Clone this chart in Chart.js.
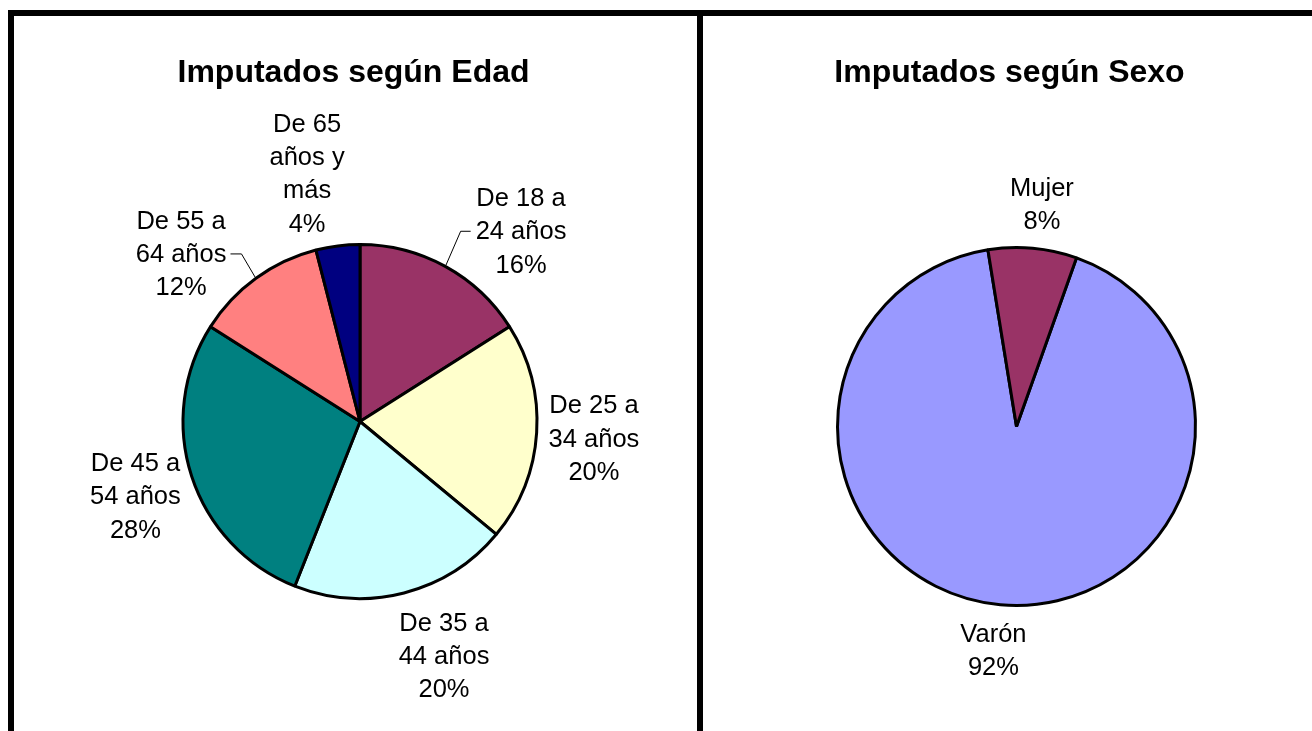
<!DOCTYPE html>
<html lang="es">
<head>
<meta charset="utf-8">
<title>Imputados según Edad y Sexo</title>
<script src="https://cdn.jsdelivr.net/npm/chart.js@4.4.1/dist/chart.umd.min.js"></script>
<style>
  html, body { margin: 0; padding: 0; background: #fff; width: 1312px; height: 731px; overflow: hidden; }
  .barra { position: absolute; background: #000; }
  .panel { position: absolute; }
</style>
</head>
<body>
<div class="barra" style="left:8px;top:10px;width:1304px;height:6px"></div>
<div class="barra" style="left:8px;top:10px;width:6px;height:721px"></div>
<div class="barra" style="left:697px;top:10px;width:6px;height:721px"></div>
<div class="panel" style="left:14px;top:16px;width:683px;height:715px"><canvas id="edadChart"></canvas></div>
<div class="panel" style="left:703px;top:16px;width:609px;height:715px"><canvas id="sexoChart"></canvas></div>

<script>
// Datos: imputados por tramo de edad (%)
const edadCategorias = [
    ['De 18 a', '24 años'],
    ['De 25 a', '34 años'],
    ['De 35 a', '44 años'],
    ['De 45 a', '54 años'],
    ['De 55 a', '64 años'],
    ['De 65', 'años y', 'más']
];
const edadValores = [16, 20, 20, 28, 12, 4];
const edadColores = ['#993366', '#FFFFCC', '#CCFFFF', '#008080', '#FF8080', '#000080'];

// Datos: imputados por sexo (%)
const sexoCategorias = ['Varón', 'Mujer'];
const sexoValores = [92, 8];
const sexoColores = ['#9999FF', '#993366'];

const FUENTE = '"Liberation Sans", Arial, Helvetica, sans-serif';

// Padding para ubicar el centro de la torta dentro del canvas
function rellenoPara(ancho, alto, cx, cy, medio) {
    return { left: cx - medio, right: ancho - cx - medio, top: cy - medio, bottom: alto - cy - medio };
}

// Etiquetas fuera de cada porción (categoría + porcentaje), con línea guía opcional
const etiquetasPlugin = {
    id: 'etiquetasTorta',
    afterDatasetsDraw(chart, args, opts) {
        const ctx = chart.ctx;
        const meta = chart.getDatasetMeta(0);
        const valores = chart.data.datasets[0].data;
        ctx.save();
        ctx.fillStyle = '#000';
        ctx.strokeStyle = '#000';
        ctx.lineWidth = 1;
        ctx.font = `${opts.tamano}px ${FUENTE}`;
        ctx.textAlign = 'center';
        ctx.textBaseline = 'alphabetic';
        meta.data.forEach((arco, i) => {
            const { x, y, startAngle, endAngle, outerRadius } =
                arco.getProps(['x', 'y', 'startAngle', 'endAngle', 'outerRadius'], true);
            const medio = (startAngle + endAngle) / 2;
            const pos = opts.posiciones[i];
            const ang = medio + pos.giro * Math.PI / 180;
            const lx = x + pos.dist * Math.cos(ang);
            const ly = y + pos.dist * Math.sin(ang);
            const cat = chart.data.labels[i];
            const lineas = (Array.isArray(cat) ? cat : [cat]).concat(valores[i] + '%');
            const y0 = ly - (lineas.length - 1) * opts.interlinea / 2;
            lineas.forEach((t, k) => {
                ctx.fillText(t, lx, y0 + k * opts.interlinea + opts.tamano * 0.358);
            });
            if (pos.guia) {
                const k = Math.floor(lineas.length / 2);
                const yl = y0 + k * opts.interlinea + 1;
                const w = ctx.measureText(lineas[k]).width;
                const derecha = lx > x;
                const xFin = derecha ? lx - w / 2 - 5 : lx + w / 2 + 4;
                const xCodo = derecha ? xFin - 10 : xFin + 11;
                const r = outerRadius + 1.5;
                ctx.beginPath();
                ctx.moveTo(x + r * Math.cos(medio), y + r * Math.sin(medio));
                ctx.lineTo(xCodo, yl);
                ctx.lineTo(xFin, yl);
                ctx.stroke();
            }
        });
        ctx.restore();
    }
};

// Título de cada panel
const tituloPlugin = {
    id: 'tituloPanel',
    afterDraw(chart, args, opts) {
        const ctx = chart.ctx;
        ctx.save();
        ctx.fillStyle = '#000';
        ctx.font = `bold 32px ${FUENTE}`;
        ctx.textAlign = 'center';
        ctx.textBaseline = 'alphabetic';
        ctx.fillText(opts.texto, opts.x, opts.y);
        ctx.restore();
    }
};

document.addEventListener('DOMContentLoaded', function() {
    const comunes = {
        responsive: true,
        maintainAspectRatio: false,
        animation: false,
        events: []
    };

    new Chart(document.getElementById('edadChart'), {
        type: 'pie',
        data: {
            labels: edadCategorias,
            datasets: [{
                data: edadValores,
                backgroundColor: edadColores,
                borderColor: '#000',
                borderWidth: 3
            }]
        },
        options: {
            ...comunes,
            radius: 177,
            rotation: 0,
            layout: { padding: rellenoPara(683, 715, 346, 405.5, 180) },
            plugins: {
                legend: { display: false },
                tooltip: { enabled: false },
                tituloPanel: { texto: 'Imputados según Edad', x: 339.5, y: 66 },
                etiquetasTorta: {
                    tamano: 25.5,
                    interlinea: 33.3,
                    posiciones: [
                        { dist: 250, giro: 11.3, guia: true },
                        { dist: 234.5, giro: 0.3 },
                        { dist: 248, giro: -5.4 },
                        { dist: 236.4, giro: -0.2 },
                        { dist: 245.8, giro: -10.7, guia: true },
                        { dist: 254.6, giro: -4.8 }
                    ]
                }
            }
        },
        plugins: [etiquetasPlugin, tituloPlugin]
    });

    new Chart(document.getElementById('sexoChart'), {
        type: 'pie',
        data: {
            labels: sexoCategorias,
            datasets: [{
                data: sexoValores,
                backgroundColor: sexoColores,
                borderColor: '#000',
                borderWidth: 3
            }]
        },
        options: {
            ...comunes,
            radius: 179,
            rotation: 19.6,
            layout: { padding: rellenoPara(609, 715, 313.5, 410.5, 182) },
            plugins: {
                legend: { display: false },
                tooltip: { enabled: false },
                tituloPanel: { texto: 'Imputados según Sexo', x: 306.5, y: 65.5 },
                etiquetasTorta: {
                    tamano: 25.5,
                    interlinea: 33.3,
                    posiciones: [
                        { dist: 224.3, giro: 0.7 },
                        { dist: 224.6, giro: 1.3 }
                    ]
                }
            }
        },
        plugins: [etiquetasPlugin, tituloPlugin]
    });

    console.info('Gráficas de imputados renderizadas.');
});
</script>
</body>
</html>
